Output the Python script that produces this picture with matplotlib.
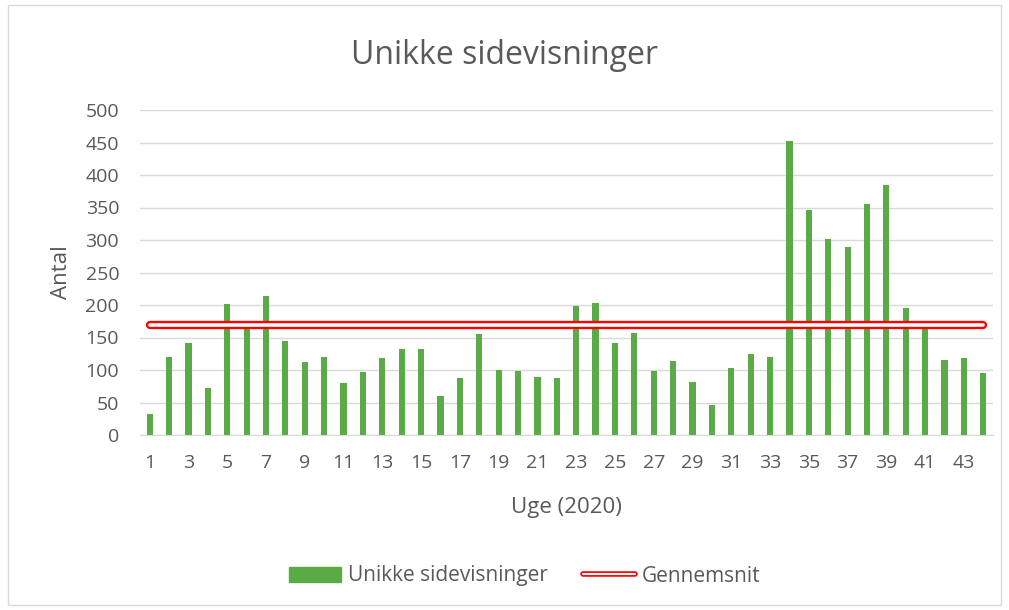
import matplotlib
matplotlib.use("Agg")
import matplotlib.pyplot as plt
import matplotlib.patheffects as pe
from matplotlib.patches import Rectangle
from matplotlib.lines import Line2D
from matplotlib.patches import Patch

weeks = list(range(1, 45))
views = [32, 120, 141, 73, 202, 172, 214, 144, 113, 120,
         80, 97, 118, 132, 132, 60, 88, 155, 100, 98,
         90, 87, 199, 203, 141, 157, 98, 114, 82, 46,
         103, 124, 120, 453, 346, 302, 290, 355, 385, 195,
         165, 116, 118, 96]
average = [170] * len(weeks)
yticks = list(range(0, 501, 50))
xtick_labels = [str(w) for w in weeks[::2]]

plt.rcParams['font.family'] = ['Open Sans', 'DejaVu Sans']
txt = '#595959'

fig = plt.figure(figsize=(10.09, 6.10), dpi=100)
fig.patches.append(Rectangle((0.008, 0.008), 0.984, 0.984, transform=fig.transFigure,
                             fill=False, edgecolor='#d9d9d9', linewidth=1))
ax = fig.add_axes([140/1009, 1-435/610, (993-140)/1009, (435-110)/610])

ax.bar(weeks, views, width=0.32, color='#5aab46', zorder=2)
ax.plot(weeks, average, color='#ff0000', linewidth=6, solid_capstyle='round', zorder=3)
ax.plot(weeks, average, color='white', linewidth=2.6, solid_capstyle='round', zorder=4)

ax.set_xlim(0.5, 44.5)
ax.set_ylim(0, 500)
ax.set_yticks(yticks)
ax.set_xticks(weeks[::2])
ax.set_xticklabels(xtick_labels)
ax.grid(axis='y', color='#d9d9d9', linewidth=1, zorder=0)
ax.set_axisbelow(True)
for s in ['top', 'right', 'left']:
    ax.spines[s].set_visible(False)
ax.spines['bottom'].set_color('#d9d9d9')
ax.tick_params(axis='both', length=0, labelsize=14, colors=txt)
ax.tick_params(axis='y', pad=15)
ax.tick_params(axis='x', pad=14)

ax.set_ylabel('Antal', fontsize=16, color=txt, labelpad=10)
ax.set_xlabel('Uge (2020)', fontsize=16, color=txt, labelpad=18)
fig.text(0.5, 1-55/610, 'Unikke sidevisninger', ha='center', va='center', fontsize=23, color=txt)

handles = [Patch(color='#5aab46'),
           Line2D([0], [0], color='#ff0000', linewidth=4, solid_capstyle='round',
                  path_effects=[pe.Stroke(linewidth=4, foreground='#ff0000'),
                                pe.Stroke(linewidth=1.5, foreground='white')])]
fig.legend(handles, ['Unikke sidevisninger', 'Gennemsnit'], loc='center',
           bbox_to_anchor=(0.52, 1-576/610), ncol=2, frameon=False, fontsize=15,
           labelcolor=txt, handlelength=2.5, handletextpad=0.3, columnspacing=1.7)

fig.savefig('out.png', dpi=100)
